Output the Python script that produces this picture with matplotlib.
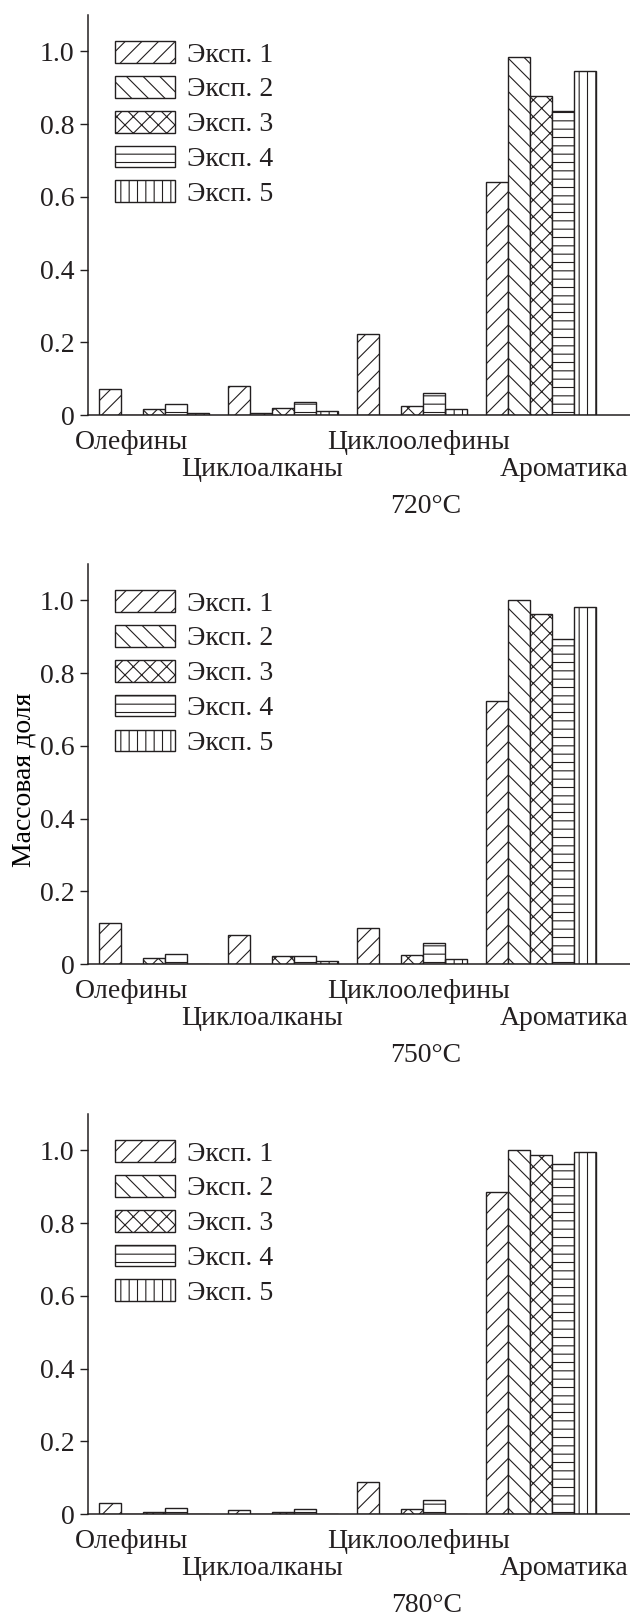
import matplotlib
matplotlib.use('Agg')
import matplotlib.pyplot as plt
import matplotlib.ticker as mticker
import numpy as np

# --- data: mass fraction by product group, 5 experiments, 3 temperatures ---
groups = ['Олефины', 'Циклоалканы', 'Циклоолефины', 'Ароматика']
exp_labels = ['Эксп. 1', 'Эксп. 2', 'Эксп. 3', 'Эксп. 4', 'Эксп. 5']
temps = ['720°C', '750°C', '780°C']

# rows = experiments, columns = groups
frac_720 = [
    [0.072, 0.080, 0.222, 0.641],
    [0.000, 0.006, 0.000, 0.985],
    [0.016, 0.019, 0.026, 0.877],
    [0.029, 0.036, 0.060, 0.835],
    [0.005, 0.011, 0.016, 0.945],
]
frac_750 = [
    [0.114, 0.080, 0.098, 0.724],
    [0.000, 0.000, 0.000, 1.000],
    [0.018, 0.021, 0.025, 0.962],
    [0.027, 0.023, 0.059, 0.895],
    [0.000, 0.009, 0.014, 0.983],
]
frac_780 = [
    [0.030, 0.010, 0.089, 0.887],
    [0.000, 0.000, 0.000, 1.000],
    [0.006, 0.006, 0.015, 0.987],
    [0.016, 0.014, 0.038, 0.963],
    [0.000, 0.000, 0.000, 0.996],
]
panels = [frac_720, frac_750, frac_780]

hatches = ['//', '\\\\', 'xx', '--', '||']
INK = '#231f20'

plt.rcParams.update({
    'font.family': 'Liberation Serif',
    'font.size': 20,
    'hatch.linewidth': 0.8,
    'hatch.color': INK,
    'text.color': INK,
    'axes.edgecolor': INK,
    'xtick.color': INK,
    'ytick.color': INK,
})

fig = plt.figure(figsize=(6.3, 16.2), dpi=100)

x = np.arange(len(groups))
w = 22 / 129  # bar width in group units
# staggered category names: anchor (group units) and row
label_x = [-0.17, 0.84, 2.05, 3.18]
label_row = [0, 1, 0, 1]
temp_x = 2.11

bottoms = [0.7438, 0.4049, 0.0654]
for p, data in enumerate(panels):
    ax = fig.add_axes([0.1402, bottoms[p], 0.8598, 400 / 1620])
    for k in range(5):
        ax.bar(x + (k - 2) * w, data[k], w, align='center', color='white',
               edgecolor=INK, linewidth=1.0, hatch=hatches[k], label=exp_labels[k])

    ax.set_xlim(-0.509, 3.69)
    ax.set_ylim(0, 1.1)
    ax.set_yticks([0, 0.2, 0.4, 0.6, 0.8, 1.0])
    ax.yaxis.set_major_formatter(mticker.FuncFormatter(lambda v, _: '0' if v == 0 else f'{v:.1f}'))
    ax.tick_params(axis='y', direction='out', length=6, width=1.0, pad=4)
    ax.set_xticks([])
    for s in ['top', 'right']:
        ax.spines[s].set_visible(False)
    ax.spines['left'].set_linewidth(1.1)
    ax.spines['bottom'].set_linewidth(1.1)

    for name, lx, row in zip(groups, label_x, label_row):
        ax.annotate(name, xy=(lx, 0), xycoords=('data', 'axes fraction'),
                    xytext=(0, -19.5 - 19.5 * row), textcoords='offset points',
                    ha='center', va='center')
    ax.annotate(temps[p], xy=(temp_x, 0), xycoords=('data', 'axes fraction'),
                xytext=(0, -66), textcoords='offset points', ha='center', va='center')

    ax.legend(loc='upper left', bbox_to_anchor=(0.05, 0.935), frameon=False,
              handlelength=2.16, handleheight=0.83, labelspacing=0.3,
              handletextpad=0.4, borderpad=0, borderaxespad=0)

    if p == 1:
        ax.set_ylabel('Массовая доля')
        ax.yaxis.set_label_coords(-0.095, 0.46)

fig.savefig('out.png', dpi=100)
